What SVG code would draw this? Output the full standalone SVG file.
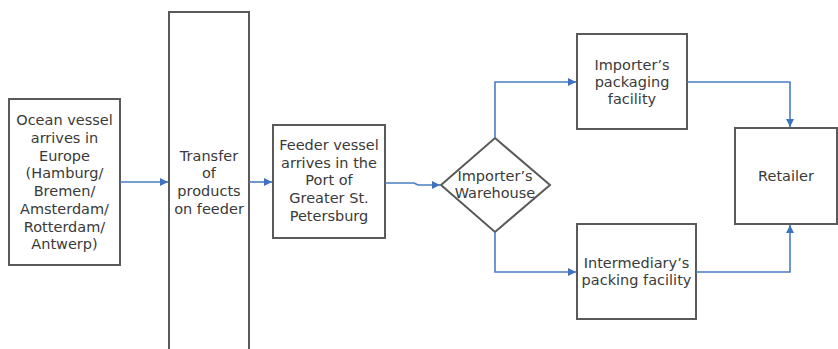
<svg xmlns="http://www.w3.org/2000/svg" width="838" height="349" viewBox="0 0 838 349">
<style>
.box{fill:#fff;stroke:#5a5a5a;stroke-width:2}
.con{fill:none;stroke:#4a7cc4;stroke-width:1.6}
text{font-family:"DejaVu Sans",Verdana,sans-serif;font-size:14.5px;fill:#3a3a3a;text-anchor:middle}
</style>
<defs>
<marker id="ah" viewBox="0 0 10 10" refX="10" refY="5" markerWidth="8" markerHeight="8" markerUnits="userSpaceOnUse" orient="auto">
<path d="M0,0 L10,5 L0,10 z" fill="#3f72c2"/>
</marker>
</defs>
<rect width="838" height="349" fill="#fff"/>
<g id="n1">
<rect class="box" x="9" y="99" width="111" height="166"/>
<text x="64.5" y="125">Ocean vessel</text>
<text x="64.5" y="143">arrives in</text>
<text x="64.5" y="161">Europe</text>
<text x="64.5" y="178">(Hamburg/</text>
<text x="64.5" y="196">Bremen/</text>
<text x="64.5" y="214">Amsterdam/</text>
<text x="64.5" y="232">Rotterdam/</text>
<text x="64.5" y="249">Antwerp)</text>
</g>
<g id="n2">
<rect class="box" x="169" y="12" width="80" height="345"/>
<text x="209" y="161">Transfer</text>
<text x="209" y="178">of</text>
<text x="209" y="196">products</text>
<text x="209" y="214">on feeder</text>
</g>
<g id="n3">
<rect class="box" x="273" y="125" width="112" height="113"/>
<text x="329" y="150">Feeder vessel</text>
<text x="329" y="168">arrives in the</text>
<text x="329" y="185">Port of</text>
<text x="329" y="203">Greater St.</text>
<text x="329" y="221">Petersburg</text>
</g>
<g id="n4">
<path class="box" d="M495,138 L550,185 L495,232 L441,185 Z"/>
<text x="495" y="181">Importer’s</text>
<text x="495" y="198">Warehouse</text>
</g>
<g id="n5">
<rect class="box" x="577" y="34" width="110" height="95"/>
<text x="632" y="70">Importer’s</text>
<text x="632" y="87">packaging</text>
<text x="632" y="104">facility</text>
</g>
<g id="n6">
<rect class="box" x="577" y="224" width="119" height="95"/>
<text x="636.5" y="268">Intermediary’s</text>
<text x="636.5" y="285">packing facility</text>
</g>
<g id="n7">
<rect class="box" x="735" y="128" width="102" height="96"/>
<text x="786" y="181">Retailer</text>
</g>
<g id="connectors">
<path class="con" marker-end="url(#ah)" d="M120,182 H168"/>
<path class="con" marker-end="url(#ah)" d="M249,182 H272"/>
<path class="con" marker-end="url(#ah)" d="M385,183 H414 L418,185 H440"/>
<path class="con" marker-end="url(#ah)" d="M495,138 V82 H576"/>
<path class="con" marker-end="url(#ah)" d="M495,232 V272 H576"/>
<path class="con" marker-end="url(#ah)" d="M687,82 H790 V127"/>
<path class="con" marker-end="url(#ah)" d="M696,272 H790 V225"/>
</g>
</svg>
